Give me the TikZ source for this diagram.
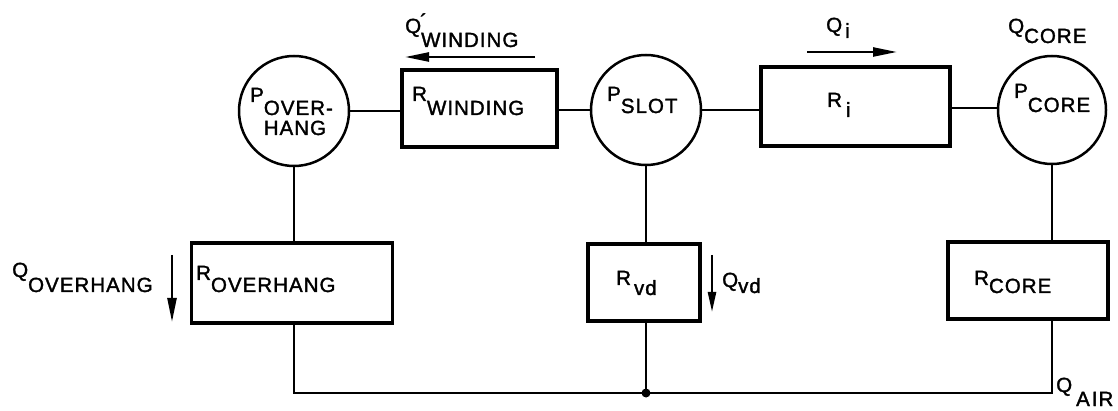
\documentclass[tikz,border=0pt]{standalone}
\usepackage{fontspec}
\setmainfont{Liberation Sans}[LetterSpace=5,FakeBold=1.6]
\usetikzlibrary{arrows.meta}
\newcommand{\lblfont}{\fontsize{20.5pt}{24pt}\selectfont}
\newcommand{\lbl}[3]{#1\raisebox{-#2pt}[0pt][0pt]{#3}}
\begin{document}
\begin{tikzpicture}[x=1pt,y=-1pt,
  circ/.style={circle, draw, line width=2.5pt, minimum size=110pt, inner sep=0pt},
  res/.style={rectangle, draw, line width=3.2pt, inner sep=0pt},
  wire/.style={line width=2.2pt},
  flow/.style={line width=2.4pt, -{Triangle[length=24pt,width=9pt]}},
  txt/.style={anchor=base west, inner sep=0pt, font=\lblfont}]
\useasboundingbox[fill=white] (0,0) rectangle (1118,411);
% thermal nodes
\node[circ] (povh) at (294,111) {};
\node[circ] (pslot) at (646,110) {};
\node[circ, minimum size=108pt] (pcore) at (1052,110) {};
% resistances
\node[res, minimum width=155pt, minimum height=77pt] (rwind) at (479.5,108.5) {};
\node[res, minimum width=189pt, minimum height=79pt] (ri) at (855.5,106.5) {};
\node[res, minimum width=201pt, minimum height=80pt] (rovh) at (292,283) {};
\node[res, minimum width=112pt, minimum height=77pt] (rvd) at (644,282.5) {};
\node[res, minimum width=160pt, minimum height=77pt] (rcore) at (1028,280.5) {};
% wires
\draw[wire] (povh.east) -- (povh.east -| rwind.west);
\draw[wire] (rwind.east |- pslot.west) -- (pslot.west);
\draw[wire] (pslot.east) -- (pslot.east -| ri.west);
\draw[wire] (ri.east |- 0,108) -- (pcore.west |- 0,108);
\draw[wire] (povh.south) -- (povh.south |- rovh.north);
\draw[wire] (pslot.south) -- (pslot.south |- rvd.north);
\draw[wire] (pcore.south) -- (pcore.south |- rcore.north);
\coordinate (junc) at (646,393);
\draw[wire] (povh.south |- rovh.south) |- (junc) -| (pcore.south |- rcore.south);
\draw[wire] (pslot.south |- rvd.south) -- (junc);
\fill (junc) circle (4.5pt);
% heat flow arrows
\coordinate (qw1) at (535,57); \coordinate (qw0) at (405,57);
\draw[flow] (qw1) -- (qw0);
\coordinate (qi0) at (807,52); \coordinate (qi1) at (897,52);
\draw[flow] (qi0) -- (qi1);
\coordinate (qo0) at (172,255); \coordinate (qo1) at (172,322);
\draw[flow] (qo0) -- (qo1);
\coordinate (qv0) at (712,255); \coordinate (qv1) at (712,312);
\draw[flow, -{Triangle[length=20pt,width=8pt]}] (qv0) -- (qv1);
% labels
\node[txt] (lqwind) at (405,33) {Q\rlap{\raisebox{0.22em}{\kern-1pt ´}}\raisebox{-14pt}[0pt][0pt]{WINDING}};
\node[txt] (lrwind) at (412,101) {\lbl{R}{14}{WINDING}};
\node[txt] (lpovh) at (250,102) {\lbl{P}{13}{OVER-\llap{\raisebox{-20pt}[0pt][0pt]{HANG\hphantom{-}}}}};
\node[txt] (lpslot) at (607,101) {\lbl{P}{12}{SLOT}};
\node[txt] (lpcore) at (1014,98) {\lbl{P}{14}{CORE}};
\node[txt] (lqcore) at (1008,33) {\lbl{Q}{10}{CORE}};
\node[txt] (lqi) at (826,32) {\lbl{Q}{6}{\kern3pt i}};
\node[txt] (lri) at (827,107) {\lbl{R}{10}{\kern4pt i}};
\node[txt] (lrovh) at (196,280) {\lbl{R}{12}{OVERHANG}};
\node[txt] (lqovh) at (12,277) {\lbl{Q}{15}{OVERHANG}};
\node[txt] (lrvd) at (616,285) {\lbl{R}{10}{\kern3pt vd}};
\node[txt] (lqvd) at (722,287) {\lbl{Q}{6}{vd}};
\node[txt] (lrcore) at (974,285) {\lbl{R}{8}{CORE}};
\node[txt] (lqair) at (1056,392) {\lbl{Q}{14}{\kern4pt A\kern2pt IR}};
\end{tikzpicture}
\end{document}
